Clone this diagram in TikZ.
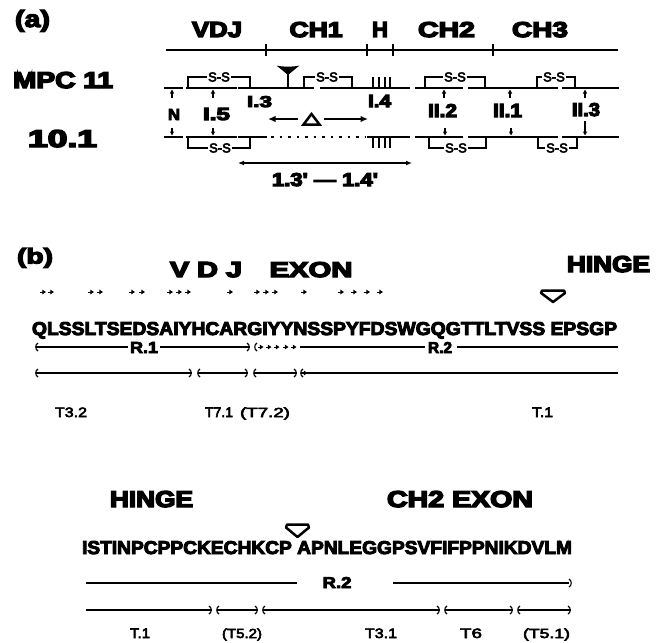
\documentclass[tikz,border=0pt]{standalone}
\usepackage{fontspec}
\usepackage{graphicx}
\usetikzlibrary{arrows.meta}
\setmainfont{Liberation Sans}
\newfontfamily\heavyfont{Liberation Sans}[BoldFeatures={FakeBold=6}]
\newfontfamily\seqfont{Liberation Sans}[BoldFeatures={FakeBold=5}]
\newfontfamily\smallfont{Liberation Sans}[UprightFeatures={FakeBold=4}]

% text scaled to a given width and cap height, placed on its baseline
\newcommand\putlabel[6]{\node[lbl] (#1) at (#2,#3) {\resizebox{#4pt}{#5pt}{#6}};}
% disulfide brackets above the MPC 11 chain and below the 10.1 chain
\newcommand\sstop[4]{\draw[ss] (#2,88) |- (#3,77) -- (#3,88); \node[sstext] (#1) at (#4,77) {S-S};}
\newcommand\ssbot[4]{\draw[ss] (#2,137) |- (#3,148) -- (#3,137); \node[sstext] (#1) at (#4,148) {S-S};}
% small parentheses ending the fragment lines
\newcommand\lpar[2]{\draw[pl] (#1+3,#2-4) .. controls (#1,#2-2.5) and (#1,#2+2.5) .. (#1+3,#2+4);}
\newcommand\rpar[2]{\draw[pl] (#1-3,#2-4) .. controls (#1,#2-2.5) and (#1,#2+2.5) .. (#1-3,#2+4);}

\begin{document}
\begin{tikzpicture}[x=1pt,y=-1pt,
  seg/.style={line width=2.7pt},
  topline/.style={line width=2.2pt},
  ss/.style={line width=1.5pt},
  sstext/.style={fill=white,inner sep=1.2pt,font=\smallfont\fontsize{13}{13}\selectfont},
  tinyarr/.style={line width=0.9pt,-{Triangle[length=3.6pt,width=4.4pt]}},
  labarr/.style={line width=1.2pt,-{Triangle[length=4pt,width=4pt]}},
  bigarr/.style={line width=2.3pt},
  pl/.style={line width=1.1pt},
  lbl/.style={inner sep=0pt,outer sep=0pt,anchor=base}]
\useasboundingbox (0,0) rectangle (663,642);
\fill[white] (0,0) rectangle (663,642);

% ---------------- panel (a) ----------------
\putlabel{pa}{32.5}{27}{35}{17}{\seqfont\bfseries (a)}
\putlabel{vdj}{217}{37}{50}{15}{\heavyfont\bfseries VDJ}
\putlabel{ch1}{316}{37}{53}{15}{\heavyfont\bfseries CH1}
\putlabel{hh}{380}{37}{16}{15}{\heavyfont\bfseries H}
\putlabel{ch2}{446.5}{37}{57}{15}{\heavyfont\bfseries CH2}
\putlabel{ch3}{540}{37}{56}{15}{\heavyfont\bfseries CH3}

% domain ruler
\draw[topline] (166,50) -- (618,50);
\foreach \x in {266,367,393,493} \draw[line width=1.3pt] (\x,44) -- (\x,56);

\putlabel{mpc}{63}{88}{100}{16}{\heavyfont\bfseries MPC 11}
\putlabel{ten}{62.5}{147}{69}{17}{\heavyfont\bfseries 10.1}

% MPC 11 chain
\foreach \a/\b in {164/183,186/237,238/314,320/410,415/463,468/558,562/619}
  \draw[seg] (\a,88) -- (\b,88);
\sstop{s1}{188}{250}{219}
\sstop{s2}{304}{352}{327}
\sstop{s3}{425}{485}{455}
\sstop{s4}{537}{575}{554}
% carbohydrate
\draw[line width=1.8pt] (288,88) -- (288,72);
\fill (276.5,65.5) .. controls (282,67) and (294,67) .. (299.5,65.5) -- (288,75) -- cycle;
% hinge marks
\foreach \x in {373,379,385,390} \draw[line width=1.4pt] (\x,77) -- (\x,88);

% 10.1 chain
\foreach \a/\b in {164/183,186/237,238/267,367/410,415/463,468/558,562/619}
  \draw[seg] (\a,137) -- (\b,137);
\draw[line width=1.3pt,dash pattern=on 2.5pt off 6pt] (271,137) -- (365,137);
\ssbot{b1}{188}{250}{220}
\ssbot{b2}{429}{486}{456}
\ssbot{b3}{538}{577}{557}
\foreach \x in {373,379,385,390} \draw[line width=1.4pt] (\x,137) -- (\x,148);

% fragment labels
\putlabel{ln}{174}{120}{12}{11}{\heavyfont\bfseries N}
\putlabel{l15}{216.5}{120}{27}{12}{\heavyfont\bfseries I.5}
\putlabel{l13}{259.5}{107}{25}{11}{\heavyfont\bfseries I.3}
\putlabel{l14}{379.5}{107}{23}{12}{\heavyfont\bfseries I.4}
\putlabel{l22}{442.5}{117}{29}{13}{\heavyfont\bfseries II.2}
\putlabel{l21}{507.5}{117}{29}{13}{\heavyfont\bfseries II.1}
\putlabel{l23}{586}{116}{28}{13}{\heavyfont\bfseries II.3}

% cleavage sites
\foreach \x in {172,213,444,510,585} \draw[labarr] (\x,98) -- (\x,89.5);
\foreach \x in {172,213,445,511} \draw[labarr] (\x,128) -- (\x,135.5);
\draw[labarr] (585,121) -- (585,135.5);

% deletion
\draw[bigarr,{Latex[length=7.5pt,width=6.5pt]}-] (268,119) -- (298,119);
\draw[line width=2.5pt,line join=miter] (303.5,124.5) -- (319.5,124.5) -- (311.5,114) -- cycle;
\draw[bigarr,-{Latex[length=7.5pt,width=6.5pt]}] (324,119) -- (368,119);

\draw[line width=1.5pt,{Latex[length=6pt,width=5pt]}-{Latex[length=6pt,width=5pt]}] (238,163) -- (412,163);
\putlabel{l1314}{325}{186}{106}{13}{\heavyfont\bfseries 1.3' — 1.4'}

% ---------------- panel (b) ----------------
\putlabel{pb}{35}{263.5}{36}{15.5}{\seqfont\bfseries (b)}
\putlabel{vdjb}{206}{277}{72}{15}{\heavyfont\bfseries V D J}
\putlabel{exon}{311}{277}{83}{15}{\heavyfont\bfseries EXON}
\putlabel{hinge1}{608.5}{272}{83}{16}{\heavyfont\bfseries HINGE}

\foreach \x in {40,48,88,97,129,139,167,176,185,227,254,263,272,301,338,351,364,377}
  \draw[tinyarr] (\x,292) -- (\x+6,292);
\draw[line width=2.5pt,line join=round] (542,290.5) -- (564,290.5) -- (565,293) -- (553,302) -- (541,293) -- cycle;

\putlabel{seq1}{324.5}{335}{585}{13}{\seqfont\bfseries QLSSLTSEDSAIYHCARGIYYNSSPYFDSWGQGTTLTVSS EPSGP}

% R fragments, first line
\lpar{35}{347}
\draw[pl] (35.5,347) -- (128,347);
\putlabel{r1}{144}{353}{28}{11}{\seqfont\bfseries R.1}
\draw[pl] (160,347) -- (250,347);
\rpar{250}{347}
\lpar{254}{347}
\foreach \x in {258,266,274,283,291} \draw[tinyarr] (\x,347) -- (\x+5.5,347);
\draw[pl] (300,347) -- (425,347);
\putlabel{r2a}{440}{353}{24}{11}{\seqfont\bfseries R.2}
\draw[pl] (457,347) -- (618,347);

% T fragments, first line
\lpar{35}{373} \draw[pl] (35.5,373) -- (192,373); \rpar{192}{373}
\lpar{197}{373} \draw[pl] (197.5,373) -- (248,373); \rpar{248}{373}
\lpar{253}{373} \draw[pl] (253.5,373) -- (297,373); \rpar{297}{373}
\lpar{300}{373} \draw[pl] (300.5,373) -- (618,373);
\draw[tinyarr] (302,373) -- (307.5,373);

\putlabel{t32}{71}{417}{32}{9.5}{\smallfont T3.2}
\putlabel{t71}{219}{417}{28}{9.5}{\smallfont T7.1}
\putlabel{t72}{265}{417}{50}{9.5}{\smallfont (T7.2)}
\putlabel{t1a}{542.5}{417}{21}{9.5}{\smallfont T.1}

% second line of sequence
\putlabel{hinge2}{151.5}{507}{83}{16}{\heavyfont\bfseries HINGE}
\putlabel{ch2ex}{460}{507}{146}{16}{\heavyfont\bfseries CH2 EXON}
\draw[line width=2.5pt,line join=round] (287,524.5) -- (308,524.5) -- (309,527.5) -- (297.5,537) -- (286,527.5) -- cycle;

\putlabel{seq2}{327}{554}{490}{13}{\seqfont\bfseries ISTINPCPPCKECHKCP APNLEGGPSVFIFPPNIKDVLM}

\draw[pl] (86,583) -- (297,583);
\putlabel{r2b}{337}{588}{29}{11}{\seqfont\bfseries R.2}
\draw[pl] (393,583) -- (569,583);
\rpar{572}{583}

\draw[pl] (86,610) -- (212,610); \rpar{212}{610}
\lpar{216}{610} \draw[pl] (216.5,610) -- (258,610); \rpar{258}{610}
\lpar{262}{610} \draw[pl] (262.5,610) -- (440,610); \rpar{440}{610}
\lpar{444}{610} \draw[pl] (444.5,610) -- (513,610); \rpar{513}{610}
\lpar{517}{610} \draw[pl] (517.5,610) -- (571,610); \rpar{571}{610}

\putlabel{t1b}{140}{638}{20}{9.5}{\smallfont T.1}
\putlabel{t52}{242}{638}{40}{9.5}{\smallfont (T5.2)}
\putlabel{t31}{381}{638}{32}{9.5}{\smallfont T3.1}
\putlabel{t6}{471}{638}{22}{9.5}{\smallfont T6}
\putlabel{t51}{546.5}{638}{47}{9.5}{\smallfont (T5.1)}
\end{tikzpicture}
\end{document}
